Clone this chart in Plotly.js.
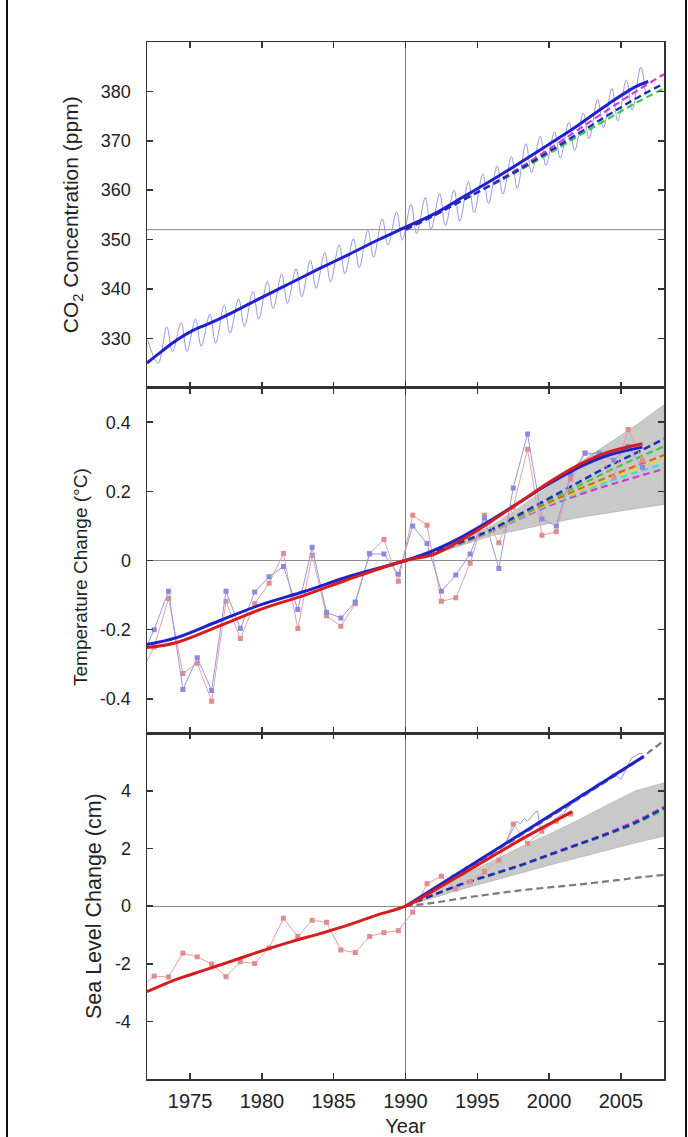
<!DOCTYPE html>
<html><head><meta charset="utf-8">
<script src="https://cdn.plot.ly/plotly-3.0.1.min.js"></script>
<style>
html,body{margin:0;padding:0;background:#fff;}
#wrap{position:relative;width:688px;height:1137px;overflow:hidden;background:#fff;}
#chart{position:absolute;left:0;top:0;width:688px;height:1137px;}
.frame{position:absolute;top:0;width:2px;height:1137px;background:#111;}
</style></head>
<body><div id="wrap"><div id="chart"></div><div class="frame" style="left:6px"></div><div class="frame" style="left:685px"></div></div>
<script>
// ---------- axes / ticks ----------
const yearRange = [1972, 2008];
const xTickVals = [1975, 1980, 1985, 1990, 1995, 2000, 2005];
const xTickText = ['1975', '1980', '1985', '1990', '1995', '2000', '2005'];
const co2Range = [320, 390];
const co2TickVals = [330, 340, 350, 360, 370, 380];
const co2TickText = ['330', '340', '350', '360', '370', '380'];
const tempRange = [-0.5, 0.5];
const tempTickVals = [-0.4, -0.2, 0, 0.2, 0.4];
const tempTickText = ['-0.4', '-0.2', '0', '0.2', '0.4'];
const seaRange = [-6, 6];
const seaTickVals = [-4, -2, 0, 2, 4];
const seaTickText = ['-4', '-2', '0', '2', '4'];
const refYear = 1990;
const co2Ref1990 = 352;

// ---------- CO2 panel ----------
const co2MonthlyYears = [1972.05, 1972.77, 1973.38, 1973.78, 1974.38, 1974.78, 1975.38, 1975.78, 1976.38, 1976.78,
  1977.38, 1977.78, 1978.38, 1978.78, 1979.38, 1979.78, 1980.38, 1980.78, 1981.38, 1981.78,
  1982.38, 1982.78, 1983.38, 1983.78, 1984.38, 1984.78, 1985.38, 1985.78, 1986.38, 1986.78,
  1987.38, 1987.78, 1988.38, 1988.78, 1989.38, 1989.78, 1990.38, 1990.78, 1991.38, 1991.78,
  1992.38, 1992.78, 1993.38, 1993.78, 1994.38, 1994.78, 1995.38, 1995.78, 1996.38, 1996.78,
  1997.38, 1997.78, 1998.38, 1998.78, 1999.38, 1999.78, 2000.38, 2000.78, 2001.38, 2001.78,
  2002.38, 2002.78, 2003.38, 2003.78, 2004.38, 2004.78, 2005.38, 2005.78, 2006.38, 2006.72];
const co2MonthlyPpm = [329.6, 324.9, 332.3, 327.3, 333.2, 327.3, 333.9, 328.4, 334.9, 329.0,
  336.7, 331.0, 338.0, 332.4, 339.5, 333.9, 341.5, 336.0, 343.0, 337.1,
  344.1, 338.4, 345.8, 340.1, 347.4, 341.4, 348.9, 343.1, 350.2, 344.3,
  351.9, 346.4, 354.2, 348.9, 355.6, 349.9, 357.1, 351.2, 358.5, 352.1,
  359.3, 352.8, 360.0, 353.7, 361.7, 355.4, 363.3, 357.3, 364.9, 359.2,
  366.8, 360.3, 369.4, 363.6, 370.9, 365.0, 371.8, 366.5, 373.8, 368.0,
  375.6, 370.4, 378.4, 372.6, 380.6, 374.0, 382.3, 376.2, 384.9, 379.5];
const co2TrendYears = [1972, 1973, 1974, 1975.2, 1976.5, 1978, 1980, 1982, 1984, 1986, 1988, 1990, 1992, 1994, 1996, 1998, 2000, 2002, 2004, 2006, 2006.9];
const co2TrendPpm = [325.0, 327.3, 329.5, 331.6, 333.2, 335.3, 338.3, 341.2, 344.1, 346.9, 349.8, 352.5, 355.2, 358.6, 362.0, 365.6, 369.3, 373.1, 377.2, 380.9, 382.0];
const projYears = [1990, 1992, 1994, 1996, 1998, 2000, 2002, 2004, 2006, 2008];
const co2ProjBlue = [352.0, 354.9, 358.0, 361.1, 364.3, 367.8, 371.4, 375.0, 378.5, 381.6];
const co2ProjMagenta = [352.0, 354.9, 358.0, 361.2, 364.6, 368.3, 372.2, 376.1, 379.9, 383.5];
const co2ProjGreen = [352.0, 354.9, 358.0, 361.0, 364.1, 367.4, 370.9, 374.3, 377.6, 380.6];

// ---------- Temperature panel ----------
const tempYears = [1971.5, 1972.5, 1973.5, 1974.5, 1975.5, 1976.5, 1977.5, 1978.5, 1979.5, 1980.5,
  1981.5, 1982.5, 1983.5, 1984.5, 1985.5, 1986.5, 1987.5, 1988.5, 1989.5, 1990.5,
  1991.5, 1992.5, 1993.5, 1994.5, 1995.5, 1996.5, 1997.5, 1998.5, 1999.5, 2000.5,
  2001.5, 2002.5, 2003.5, 2004.5, 2005.5, 2006.5];
const tempRed = [-0.33, -0.25, -0.11, -0.327, -0.297, -0.407, -0.118, -0.226, -0.125, -0.066,
  0.02, -0.197, 0.015, -0.16, -0.19, -0.125, 0.02, 0.061, -0.06, 0.131,
  0.102, -0.118, -0.108, -0.008, 0.131, 0.051, 0.154, 0.322, 0.073, 0.083,
  0.235, 0.311, 0.300, 0.24, 0.379, 0.29];
const tempBlue = [-0.29, -0.20, -0.089, -0.373, -0.281, -0.376, -0.089, -0.197, -0.091, -0.047,
  -0.017, -0.142, 0.038, -0.15, -0.166, -0.12, 0.019, 0.019, -0.04, 0.10,
  0.049, -0.089, -0.042, 0.019, 0.123, -0.023, 0.21, 0.366, 0.12, 0.10,
  0.25, 0.31, 0.31, 0.29, 0.33, 0.27];
const tempTrendYears = [1972, 1974, 1977, 1980, 1983, 1986, 1990, 1992, 1994, 1996, 1998, 2000, 2002, 2004, 2006.5];
const tempTrendBlue = [-0.243, -0.224, -0.175, -0.127, -0.089, -0.047, 0, 0.03, 0.07, 0.118, 0.17, 0.222, 0.268, 0.303, 0.328];
const tempTrendRed = [-0.252, -0.238, -0.19, -0.14, -0.1, -0.055, 0, 0.018, 0.062, 0.114, 0.17, 0.226, 0.275, 0.312, 0.338];
const tempBandUpper = [0, 0.028, 0.065, 0.1, 0.155, 0.215, 0.28, 0.335, 0.39, 0.45];
const tempBandLower = [0, 0.018, 0.045, 0.072, 0.09, 0.107, 0.124, 0.138, 0.15, 0.162];
const tempProjBlue = [0, 0.025, 0.055, 0.09, 0.135, 0.18, 0.225, 0.27, 0.31, 0.352];
const tempProjGreen = [0, 0.024, 0.054, 0.088, 0.131, 0.174, 0.215, 0.256, 0.294, 0.33];
const tempProjOrange = [0, 0.024, 0.053, 0.087, 0.129, 0.168, 0.205, 0.24, 0.273, 0.305];
const tempProjYellow = [0, 0.024, 0.053, 0.086, 0.127, 0.165, 0.2, 0.233, 0.265, 0.295];
const tempProjCyan = [0, 0.024, 0.052, 0.085, 0.125, 0.162, 0.195, 0.226, 0.254, 0.28];
const tempProjMagenta = [0, 0.023, 0.051, 0.084, 0.122, 0.158, 0.189, 0.216, 0.241, 0.265];

// ---------- Sea level panel ----------
const tideYears = [1971.5, 1972.5, 1973.5, 1974.5, 1975.5, 1976.5, 1977.5, 1978.5, 1979.5, 1980.5,
  1981.5, 1982.5, 1983.5, 1984.5, 1985.5, 1986.5, 1987.5, 1988.5, 1989.5, 1990.5,
  1991.5, 1992.5, 1993.5, 1994.5, 1995.5, 1996.5, 1997.5, 1998.5, 1999.5, 2000.5, 2001.5];
const tideCm = [-2.85, -2.43, -2.46, -1.63, -1.76, -2.01, -2.45, -1.93, -1.99, -1.45,
  -0.42, -1.05, -0.49, -0.56, -1.52, -1.61, -1.05, -0.92, -0.85, -0.21,
  0.78, 1.04, 0.6, 0.85, 1.2, 1.6, 2.85, 2.18, 2.6, 2.95, 3.2];
const tideTrendYears = [1972, 1974, 1976, 1978, 1980, 1982, 1984, 1986, 1988, 1990, 1992, 1994, 1996, 1998, 2000, 2001.6];
const tideTrendCm = [-2.97, -2.55, -2.22, -1.89, -1.55, -1.24, -0.96, -0.66, -0.31, 0, 0.55, 1.13, 1.72, 2.3, 2.85, 3.28];
const satYears = [1993.0, 1993.25, 1993.5, 1993.75, 1994.0, 1994.25, 1994.5, 1994.75, 1995.0, 1995.25,
  1995.5, 1995.75, 1996.0, 1996.25, 1996.5, 1996.75, 1997.0, 1997.25, 1997.5, 1997.75,
  1998.0, 1998.25, 1998.5, 1998.75, 1999.0, 1999.2, 1999.4, 1999.75, 2000.0, 2000.25,
  2000.5, 2000.75, 2001.0, 2001.25, 2001.5, 2001.75, 2002.0, 2002.25, 2002.5, 2002.75,
  2003.0, 2003.25, 2003.5, 2003.75, 2004.0, 2004.25, 2004.5, 2004.75, 2005.0, 2005.25,
  2005.5, 2005.75, 2006.0, 2006.25, 2006.5];
const satCm = [0.95, 1.1, 1.05, 1.2, 1.25, 1.4, 1.3, 1.45, 1.55, 1.5,
  1.7, 1.8, 1.75, 1.9, 1.85, 2.05, 2.2, 2.45, 2.7, 2.95,
  2.85, 3.05, 2.95, 3.1, 3.25, 3.3, 2.65, 2.7, 2.85, 2.95,
  3.05, 3.15, 3.2, 3.4, 3.5, 3.6, 3.7, 3.9, 3.95, 3.9,
  4.05, 4.2, 4.3, 4.3, 4.4, 4.5, 4.62, 4.5, 4.4, 4.65,
  4.9, 5.15, 5.2, 5.3, 5.3];
const satTrendYears = [1990, 1998, 2006.6];
const satTrendCm = [0, 2.5, 5.2];
const seaBandUpper = [0, 0.54, 1.07, 1.55, 2.05, 2.5, 2.98, 3.5, 4.0, 4.28];
const seaBandLower = [0, 0.3, 0.6, 0.87, 1.15, 1.42, 1.68, 1.95, 2.2, 2.43];
const seaProjBlue = [0, 0.4, 0.78, 1.1, 1.42, 1.78, 2.14, 2.5, 2.9, 3.41];
const seaProjGreen = [0, 0.39, 0.76, 1.08, 1.4, 1.76, 2.12, 2.47, 2.86, 3.35];
const seaProjMagenta = [0, 0.4, 0.78, 1.1, 1.43, 1.8, 2.16, 2.53, 2.95, 3.45];
const seaProjGrayLow = [0, 0.12, 0.28, 0.42, 0.55, 0.65, 0.75, 0.86, 0.98, 1.09];
const seaProjGrayHighYears = [1990, 1994, 1998, 2002, 2006, 2008];
const seaProjGrayHigh = [0, 1.2, 2.45, 3.7, 5.0, 5.75];

// ---------- styles ----------
const C = {
  thickBlue: '#1e22cc', thickRed: '#d81b1b', thinBlue: '#9696e6', thinRed: '#e9a0a0',
  mkBlue: '#8a8ade', mkRed: '#e08c8c', dashBlue: '#1f2db8', band: '#c9c9c9', bandEdge: '#a6a6a6',
  grayDash: '#7a7a7a', green: '#3ccc3c', orange: '#e2602a', yellow: '#e6dc22', cyan: '#3cdcdc', magenta: '#d23cd2'
};
const DASH = '7px,4px';

function ln(x, y, xa, ya, color, width, dash, spline) {
  return { type: 'scatter', mode: 'lines', x: x, y: y, xaxis: xa, yaxis: ya, hoverinfo: 'skip',
    line: { color: color, width: width, dash: dash || 'solid', shape: spline ? 'spline' : 'linear', smoothing: 1 } };
}
function mk(x, y, xa, ya, lineColor, mColor) {
  return { type: 'scatter', mode: 'lines+markers', x: x, y: y, xaxis: xa, yaxis: ya, hoverinfo: 'skip',
    line: { color: lineColor, width: 1 }, marker: { symbol: 'square', size: 5, color: mColor } };
}
function band(x, up, lo, xa, ya) {
  return { type: 'scatter', mode: 'lines', x: x.concat(x.slice().reverse()), y: up.concat(lo.slice().reverse()),
    xaxis: xa, yaxis: ya, fill: 'toself', fillcolor: C.band, line: { color: C.bandEdge, width: 0.6 }, hoverinfo: 'skip' };
}

const traces = [
  // CO2
  ln(co2MonthlyYears, co2MonthlyPpm, 'x', 'y', C.thinBlue, 1, null, true),
  ln(projYears, co2ProjGreen, 'x', 'y', C.green, 2.2, DASH, true),
  ln(projYears, co2ProjMagenta, 'x', 'y', C.magenta, 2.2, DASH, true),
  ln(projYears, co2ProjBlue, 'x', 'y', C.dashBlue, 2.4, DASH, true),
  ln(co2TrendYears, co2TrendPpm, 'x', 'y', C.thickBlue, 3, null, true),
  // Temperature
  band(projYears, tempBandUpper, tempBandLower, 'x2', 'y2'),
  ln(projYears, tempProjMagenta, 'x2', 'y2', C.magenta, 2.2, DASH, true),
  ln(projYears, tempProjCyan, 'x2', 'y2', C.cyan, 2.2, DASH, true),
  ln(projYears, tempProjYellow, 'x2', 'y2', C.yellow, 2.2, DASH, true),
  ln(projYears, tempProjOrange, 'x2', 'y2', C.orange, 2.2, DASH, true),
  ln(projYears, tempProjGreen, 'x2', 'y2', C.green, 2.2, DASH, true),
  ln(projYears, tempProjBlue, 'x2', 'y2', C.dashBlue, 2.4, DASH, true),
  mk(tempYears, tempRed, 'x2', 'y2', C.thinRed, C.mkRed),
  mk(tempYears, tempBlue, 'x2', 'y2', C.thinBlue, C.mkBlue),
  ln(tempTrendYears, tempTrendBlue, 'x2', 'y2', C.thickBlue, 3, null, true),
  ln(tempTrendYears, tempTrendRed, 'x2', 'y2', C.thickRed, 3, null, true),
  // Sea level
  band(projYears, seaBandUpper, seaBandLower, 'x3', 'y3'),
  ln(projYears, seaProjGrayLow, 'x3', 'y3', C.grayDash, 2.2, DASH, true),
  ln(seaProjGrayHighYears, seaProjGrayHigh, 'x3', 'y3', C.grayDash, 2.2, DASH, true),
  ln(projYears, seaProjGreen, 'x3', 'y3', C.green, 2.2, DASH, true),
  ln(projYears, seaProjMagenta, 'x3', 'y3', C.magenta, 2.2, DASH, true),
  ln(projYears, seaProjBlue, 'x3', 'y3', C.dashBlue, 2.4, DASH, true),
  mk(tideYears, tideCm, 'x3', 'y3', C.thinRed, C.mkRed),
  ln(satYears, satCm, 'x3', 'y3', C.thinBlue, 1, null, false),
  ln(satTrendYears, satTrendCm, 'x3', 'y3', C.thickBlue, 3, null, true),
  ln(tideTrendYears, tideTrendCm, 'x3', 'y3', C.thickRed, 3, null, true)
];

const FONT = 'Liberation Sans, Arial, Helvetica, sans-serif';
const TXT = '#222';
function xAxis(anchor, labels) {
  return { anchor: anchor, range: yearRange, tickmode: 'array', tickvals: xTickVals, ticktext: xTickText,
    showticklabels: labels, ticks: 'inside', ticklen: 6, tickwidth: 1.5, tickcolor: '#333',
    showline: true, linecolor: '#333', linewidth: 1.5, mirror: 'ticks', showgrid: false, zeroline: false,
    tickfont: { family: FONT, size: 20, color: TXT }, ticklabelstandoff: 3 };
}
function yAxis(anchor, domain, range, tv, tt, title, tsize, standoff, zero) {
  const ax = { anchor: anchor, domain: domain, range: range, tickmode: 'array', tickvals: tv, ticktext: tt,
    ticks: 'inside', ticklen: 6, tickwidth: 1.5, tickcolor: '#333', showline: true, linecolor: '#333', linewidth: 1.5,
    mirror: 'ticks', showgrid: false, zeroline: zero, zerolinecolor: '#8a8a8a', zerolinewidth: 1,
    tickfont: { family: FONT, size: 18, color: TXT }, ticklabelstandoff: 11 };
  if (title) ax.title = { text: title, font: { family: FONT, size: tsize, color: TXT }, standoff: standoff };
  return ax;
}

const layout = {
  width: 688, height: 1137, margin: { l: 147, r: 24, t: 42, b: 58 },
  paper_bgcolor: 'rgba(0,0,0,0)', plot_bgcolor: '#fff', showlegend: false,
  font: { family: FONT, color: TXT },
  xaxis: xAxis('y', false),
  xaxis2: xAxis('y2', false),
  xaxis3: Object.assign(xAxis('y3', true), { title: { text: 'Year', font: { family: FONT, size: 20, color: TXT }, standoff: 10 } }),
  yaxis: yAxis('x', [2 / 3, 1], co2Range, co2TickVals, co2TickText, 'CO<sub>2</sub> Concentration (ppm)', 21, 16, false),
  yaxis2: yAxis('x2', [1 / 3, 2 / 3], tempRange, tempTickVals, tempTickText, null, 19, 8, true),
  yaxis3: yAxis('x3', [0, 1 / 3], seaRange, seaTickVals, seaTickText, 'Sea Level Change (cm)', 21.5, 7, true),
  annotations: [
    { text: 'Temperature Change (°C)', textangle: -90, xref: 'paper', yref: 'paper',
      x: (80 - 147) / 517, y: (1079 - 577) / 1037, xanchor: 'center', yanchor: 'middle', showarrow: false,
      font: { family: FONT, size: 19, color: TXT } }
  ],
  shapes: [
    { type: 'line', xref: 'x3', yref: 'paper', x0: refYear, x1: refYear, y0: 0, y1: 1, line: { color: '#7a7a7a', width: 1 }, layer: 'below' },
    { type: 'line', xref: 'paper', yref: 'y', x0: 0, x1: 1, y0: co2Ref1990, y1: co2Ref1990, line: { color: '#8a8a8a', width: 1 }, layer: 'below' }
  ]
};

Plotly.newPlot('chart', traces, layout, { staticPlot: true, displayModeBar: false });
</script></body></html>
